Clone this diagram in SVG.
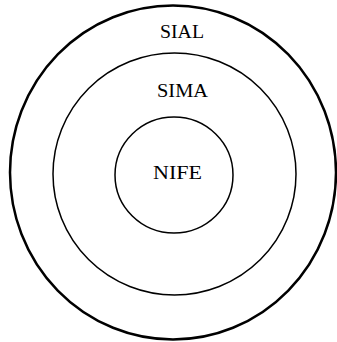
<svg xmlns="http://www.w3.org/2000/svg" width="337" height="342" viewBox="0 0 337 342">
  <style>
    .ring { fill: none; stroke: #000; }
    .lbl { font-family: "Liberation Serif", "Times New Roman", serif; font-size: 18px; fill: #000; }
  </style>
  <rect width="337" height="342" fill="#fff"/>
  <g id="sial">
    <ellipse class="ring" cx="173" cy="172.5" rx="163" ry="167" stroke-width="2.5"/>
    <text class="lbl" x="160" y="38" textLength="44" lengthAdjust="spacingAndGlyphs">SIAL</text>
  </g>
  <g id="sima">
    <ellipse class="ring" cx="174.5" cy="174" rx="121.5" ry="121" stroke-width="1.5"/>
    <text class="lbl" x="157" y="97" textLength="51" lengthAdjust="spacingAndGlyphs">SIMA</text>
  </g>
  <g id="nife">
    <ellipse class="ring" cx="174" cy="175" rx="59" ry="58" stroke-width="1.5"/>
    <text class="lbl" x="153" y="179" textLength="49" lengthAdjust="spacingAndGlyphs">NIFE</text>
  </g>
  <g id="connectors"/>
</svg>
